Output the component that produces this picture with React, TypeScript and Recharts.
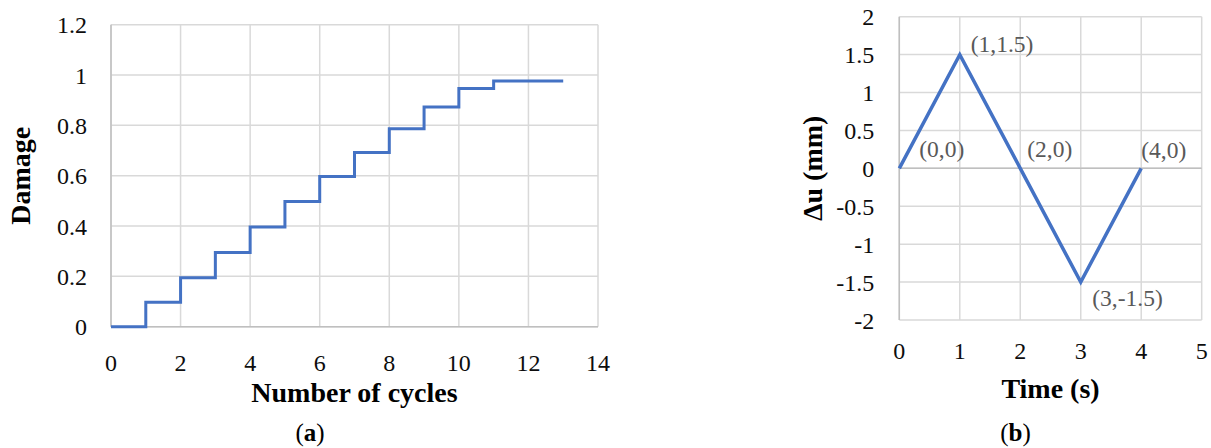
import React from 'react';
import { LineChart, Line, XAxis, YAxis, CartesianGrid, LabelList, Label } from 'recharts';

// ---- (a) Damage vs number of cycles ----
const cycles = [0, 1, 2, 3, 4, 5, 6, 7, 8, 9, 10, 11, 12, 13];
const damage = [0, 0.097, 0.195, 0.295, 0.396, 0.497, 0.597, 0.692, 0.787, 0.873, 0.946, 0.976, 0.976, 0.976];
const cycleTicks = [0, 2, 4, 6, 8, 10, 12, 14];
const damageTicks = [0, 0.2, 0.4, 0.6, 0.8, 1, 1.2];

// ---- (b) Displacement vs time ----
const timeS = [0, 1, 2, 3, 4];
const deltaU = [0, 1.5, 0, -1.5, 0];
const timeTicks = [0, 1, 2, 3, 4, 5];
const deltaUTicks = [-2, -1.5, -1, -0.5, 0, 0.5, 1, 1.5, 2];

const damageData = cycles.map((n, i) => ({ n, d: damage[i] }));
const waveData = timeS.map((t, i) => ({ t, u: deltaU[i], label: `(${t},${deltaU[i]})` }));

const FONT = "'Liberation Serif', 'Times New Roman', serif";
const BLUE = '#4472C4';
const GRID = '#d9d9d9';
const AXIS = '#bfbfbf';
const TICK_STYLE = { fontFamily: FONT, fontSize: 24, fill: '#0d0d0d' };

// label placement relative to each point (layout, not data)
const LABEL_PLACEMENT: Array<[number, number]> = [
  [20, -17.5],
  [11, -9],
  [7, -17.5],
  [11.5, 17.5],
  [0, -16],
];

const PointLabel = (props: any) => {
  const { x, y, index, value } = props;
  let i = typeof index === 'number' ? index : waveData.findIndex((d) => d.label === value);
  if (i < 0) i = 0;
  const [dx, dy] = LABEL_PLACEMENT[i] || [0, 0];
  return (
    <text x={x + dx} y={y + dy + 6} textAnchor="start" fontFamily={FONT} fontSize={23.5} fill="#595959">
      {value}
    </text>
  );
};

const xTitle = (text: string, dyBase: number) => (props: any) => {
  const vb = props.viewBox || {};
  return (
    <text
      x={vb.x + vb.width / 2}
      y={vb.y + dyBase}
      textAnchor="middle"
      fontFamily={FONT}
      fontSize={28}
      fontWeight="bold"
      fill="#000"
    >
      {text}
    </text>
  );
};

const yTitle = (text: string, xBase: number) => (props: any) => {
  const vb = props.viewBox || {};
  const cy = vb.y + vb.height / 2;
  const cx = vb.x + xBase;
  return (
    <text
      x={cx}
      y={cy}
      transform={`rotate(-90, ${cx}, ${cy})`}
      textAnchor="middle"
      fontFamily={FONT}
      fontSize={28}
      fontWeight="bold"
      fill="#000"
    >
      {text}
    </text>
  );
};

export default function App() {
  return (
    <div style={{ position: 'absolute', left: 0, top: 0, width: 1211, height: 448, background: '#fff', overflow: 'hidden' }}>
      <div style={{ position: 'absolute', left: 0, top: 0 }}>
        <LineChart width={620} height={448} data={damageData} margin={{ top: 24.7, right: 22, bottom: 41.3, left: 0 }}>
          <CartesianGrid stroke={GRID} strokeWidth={1.5} />
          <CartesianGrid stroke={AXIS} strokeWidth={1.5} horizontalValues={[0]} verticalValues={[0]} />
          <XAxis
            dataKey="n"
            type="number"
            domain={[0, 14]}
            ticks={cycleTicks}
            interval={0}
            height={80}
            tickSize={0}
            tickMargin={27}
            tickLine={false}
            axisLine={false}
            tick={TICK_STYLE}
          >
            <Label content={xTitle('Number of cycles', 75)} />
          </XAxis>
          <YAxis
            type="number"
            domain={[0, 1.2]}
            ticks={damageTicks}
            interval={0}
            width={111}
            tickSize={0}
            tickMargin={24}
            tickLine={false}
            axisLine={false}
            tick={TICK_STYLE}
          >
            <Label content={yTitle('Damage', 30)} />
          </YAxis>
          <Line
            type="stepAfter"
            dataKey="d"
            stroke={BLUE}
            strokeWidth={3}
            dot={false}
            activeDot={false}
            isAnimationActive={false}
          />
        </LineChart>
      </div>
      <div style={{ position: 'absolute', left: 790, top: 0 }}>
        <LineChart width={421} height={448} data={waveData} margin={{ top: 16.7, right: 9.3, bottom: 48, left: 0 }}>
          <CartesianGrid stroke={GRID} strokeWidth={1.5} />
          <CartesianGrid stroke={AXIS} strokeWidth={1.5} horizontalValues={[0]} verticalValues={[0]} />
          <XAxis
            dataKey="t"
            type="number"
            domain={[0, 5]}
            ticks={timeTicks}
            interval={0}
            height={80}
            tickSize={0}
            tickMargin={22}
            tickLine={false}
            axisLine={false}
            tick={TICK_STYLE}
          >
            <Label content={xTitle('Time (s)', 77.5)} />
          </XAxis>
          <YAxis
            type="number"
            domain={[-2, 2]}
            ticks={deltaUTicks}
            interval={0}
            width={109.3}
            tickSize={0}
            tickMargin={25}
            tickLine={false}
            axisLine={false}
            tick={TICK_STYLE}
          >
            <Label content={yTitle('Δu (mm)', 32)} />
          </YAxis>
          <Line
            type="linear"
            dataKey="u"
            stroke={BLUE}
            strokeWidth={3.5}
            dot={false}
            activeDot={false}
            isAnimationActive={false}
          >
            <LabelList dataKey="label" content={PointLabel} />
          </Line>
        </LineChart>
      </div>
      <svg width={1211} height={448} style={{ position: 'absolute', left: 0, top: 0, pointerEvents: 'none' }}>
        <text x={310} y={441} textAnchor="middle" fontFamily={FONT} fontSize={25} fill="#000">
          (<tspan fontWeight="bold">a</tspan>)
        </text>
        <text x={1015.5} y={441} textAnchor="middle" fontFamily={FONT} fontSize={25} fill="#000">
          (<tspan fontWeight="bold">b</tspan>)
        </text>
      </svg>
    </div>
  );
}
